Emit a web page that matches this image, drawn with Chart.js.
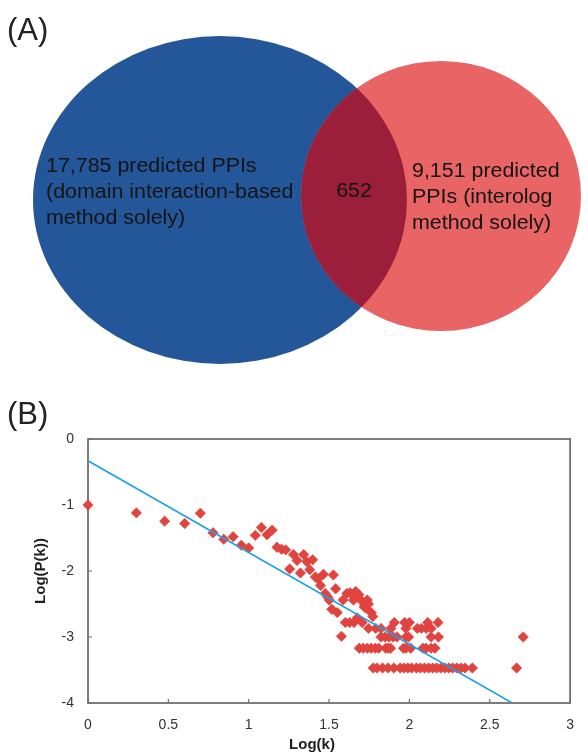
<!DOCTYPE html>
<html>
<head>
<meta charset="utf-8">
<script src="https://cdn.jsdelivr.net/npm/chart.js@4.4.1/dist/chart.umd.min.js"></script>
<style>
  html, body { margin: 0; padding: 0; background: #ffffff; }
  body { width: 588px; height: 756px; position: relative; overflow: hidden; font-family: "Liberation Sans", Arial, sans-serif; }
  .panel { position: absolute; left: 0; width: 588px; }
  #wrapA { top: 0; height: 400px; }
  #wrapB { top: 400px; height: 356px; }
  .tag { position: absolute; left: 7px; font-size: 31px; line-height: 32px; color: #222; font-family: "Liberation Sans", Arial, sans-serif; }
</style>
</head>
<body>
<div class="panel" id="wrapA"><canvas id="venn" width="588" height="400"></canvas></div>
<div class="panel" id="wrapB"><canvas id="scatter" width="588" height="356"></canvas></div>
<div class="tag" style="top:14px">(A)</div>
<div class="tag" style="top:398px">(B)</div>
<script>
// ---------- (A) Venn data ----------
const vennSetLabels = ['domain interaction-based', 'interolog'];
const vennExclusive = [17785, 9151];
const vennShared = [652];

// ---------- (B) degree distribution data ----------
const scatterLogK = [0, 0.301, 0.477, 0.602, 0.699, 0.778, 0.845, 0.903, 0.954, 1.000,
  1.041, 1.079, 1.114, 1.146, 1.176, 1.204, 1.230, 1.255, 1.279, 1.301,
  1.322, 1.342, 1.362, 1.380, 1.398, 1.415, 1.431, 1.447, 1.465, 1.476,
  1.491, 1.501, 1.517, 1.527, 1.541, 1.551, 1.577, 1.587, 1.611, 1.631,
  1.652, 1.666, 1.676, 1.686, 1.697, 1.718, 1.728, 1.738, 1.745, 1.762, 1.772];
const scatterLogP = [-1.00, -1.12, -1.245, -1.28, -1.125, -1.42, -1.52, -1.48, -1.61, -1.65,
  -1.46, -1.34, -1.45, -1.38, -1.64, -1.67, -1.68, -1.97, -1.75, -1.84,
  -2.03, -1.75, -1.86, -1.98, -1.83, -2.09, -2.12, -2.22, -2.05, -2.34,
  -2.39, -2.44, -2.58, -2.06, -2.27, -2.63, -2.99, -2.44, -2.34, -2.33,
  -2.44, -2.31, -2.71, -2.36, -2.44, -2.54, -2.56, -2.44, -2.50, -2.63, -2.69];
// plateau rows (log P levels) and the log k values sitting on each
const floorLevels = [-2.78, -2.87, -3.00, -3.17, -3.47];
const floorLogK = [
  [1.601, 1.628, 1.655, 1.706, 1.906, 1.970, 2.000, 2.114, 2.178],
  [1.746, 1.790, 1.823, 1.885, 1.978, 2.049, 2.074, 2.104, 2.135],
  [1.823, 1.849, 1.873, 1.899, 1.923, 1.979, 1.995, 2.135, 2.181, 2.708],
  [1.688, 1.712, 1.738, 1.762, 1.788, 1.809, 1.853, 1.867, 1.883, 1.963, 1.979, 2.008, 2.084, 2.104, 2.135, 2.159],
  [1.775, 1.798, 1.833, 1.867, 1.903, 1.943, 1.967, 1.990, 2.014, 2.044, 2.068, 2.094, 2.120, 2.145, 2.169, 2.195, 2.221, 2.245, 2.269, 2.295, 2.321, 2.346, 2.392, 2.667]
];
const fitLogK = [0, 2.64];
const fitLogP = [-0.33, -4.0];
const xTickValues = [0, 0.5, 1, 1.5, 2, 2.5, 3];
const yTickValues = [0, -1, -2, -3, -4];
const xTitle = 'Log(k)';
const yTitle = 'Log(P(k))';

const FONT = '"Liberation Sans", Arial, sans-serif';
const fmt = n => n.toLocaleString('en-US');

// ---------- Venn chart ----------
const vennPlugin = {
  id: 'vennDraw',
  beforeDatasetsDraw(chart, args, opts) {
    const ctx = chart.ctx, xs = chart.scales.x, ys = chart.scales.y;
    const path = c => {
      const cx = xs.getPixelForValue(c.cx), cy = ys.getPixelForValue(c.cy);
      const rx = Math.abs(xs.getPixelForValue(c.cx + c.rx) - cx);
      const ry = Math.abs(ys.getPixelForValue(c.cy + c.ry) - cy);
      ctx.beginPath();
      ctx.ellipse(cx, cy, rx, ry, 0, 0, Math.PI * 2);
    };
    ctx.save();
    opts.circles.forEach(c => { path(c); ctx.fillStyle = c.color; ctx.fill(); });
    ctx.save();
    path(opts.circles[0]); ctx.clip();
    path(opts.circles[1]); ctx.fillStyle = opts.overlapColor; ctx.fill();
    ctx.restore();

    ctx.fillStyle = '#141414';
    ctx.font = opts.fontSize + 'px ' + FONT;
    ctx.textBaseline = 'middle';
    const put = (txt, x, y, align) => {
      ctx.save();
      ctx.translate(xs.getPixelForValue(x), ys.getPixelForValue(y));
      ctx.scale(opts.stretch, 1);
      ctx.textAlign = align;
      ctx.fillText(txt, 0, 0);
      ctx.restore();
    };
    const left = [fmt(vennExclusive[0]) + ' predicted PPIs', '(' + vennSetLabels[0], 'method solely)'];
    const right = [fmt(vennExclusive[1]) + ' predicted', 'PPIs (' + vennSetLabels[1], 'method solely)'];
    left.forEach((t, i) => put(t, opts.leftText.x, opts.leftText.y + i * opts.lineGap, 'left'));
    right.forEach((t, i) => put(t, opts.rightText.x, opts.rightText.y + i * opts.lineGap, 'left'));
    put(fmt(vennShared[0]), opts.midText.x, opts.midText.y, 'center');
    ctx.restore();
  }
};

new Chart(document.getElementById('venn'), {
  type: 'scatter',
  data: { datasets: [] },
  options: {
    responsive: false, animation: false, events: [],
    layout: { padding: 0 },
    plugins: {
      legend: { display: false }, tooltip: { enabled: false },
      vennDraw: {
        circles: [
          { cx: 220, cy: 200, rx: 187, ry: 164, color: '#23579A' },
          { cx: 441, cy: 196, rx: 140, ry: 135, color: '#E96464' }
        ],
        overlapColor: '#9B1F3A',
        fontSize: 20,
        stretch: 1.07,
        lineGap: 26,
        leftText: { x: 46, y: 166 },
        rightText: { x: 412, y: 171 },
        midText: { x: 354, y: 191 }
      }
    },
    scales: {
      x: { type: 'linear', min: 0, max: 588, display: false },
      y: { type: 'linear', min: 0, max: 400, reverse: true, display: false }
    }
  },
  plugins: [vennPlugin]
});

// ---------- Scatter chart ----------
const points = scatterLogK.map((x, i) => ({ x, y: scatterLogP[i] }));
floorLogK.forEach((row, r) => row.forEach(x => points.push({ x, y: floorLevels[r] })));

const framePlugin = {
  id: 'frameDraw',
  beforeDatasetsDraw(chart) {
    const ctx = chart.ctx, a = chart.chartArea, xs = chart.scales.x, ys = chart.scales.y;
    ctx.save();
    ctx.strokeStyle = '#6f6f6f';
    ctx.lineWidth = 1.8;
    ctx.strokeRect(a.left, a.top, a.right - a.left, a.bottom - a.top);
    ctx.lineWidth = 1.2;
    ctx.beginPath();
    yTickValues.forEach(v => { const p = ys.getPixelForValue(v); ctx.moveTo(a.left, p); ctx.lineTo(a.left + 4, p); });
    xTickValues.forEach(v => { const p = xs.getPixelForValue(v); ctx.moveTo(p, a.bottom); ctx.lineTo(p, a.bottom - 4); });
    ctx.stroke();
    ctx.restore();
  },
  afterDraw(chart) {
    const ctx = chart.ctx;
    ctx.save();
    ctx.fillStyle = '#1e1e1e';
    ctx.font = 'bold 15px ' + FONT;
    ctx.textAlign = 'center';
    ctx.textBaseline = 'middle';
    ctx.fillText(xTitle, 312, 345);
    ctx.translate(41, 171);
    ctx.rotate(-Math.PI / 2);
    ctx.fillText(yTitle, 0, 0);
    ctx.restore();
  }
};

const tickFont = { family: FONT, size: 14 };
new Chart(document.getElementById('scatter'), {
  type: 'scatter',
  data: {
    datasets: [
      { label: 'fit', data: fitLogK.map((x, i) => ({ x, y: fitLogP[i] })), showLine: true,
        borderColor: '#1CA2E0', borderWidth: 1.6, pointRadius: 0, order: 0 },
      { label: 'P(k)', data: points, pointStyle: 'rectRot', pointRadius: 5.2,
        backgroundColor: '#E1433F', borderColor: '#E1433F', borderWidth: 0.6, clip: false, order: 1 }
    ]
  },
  options: {
    responsive: false, animation: false, events: [],
    layout: { padding: { left: 0, right: 4, top: 39, bottom: 0 } },
    plugins: { legend: { display: false }, tooltip: { enabled: false } },
    scales: {
      x: {
        type: 'linear', min: 0, max: 3,
        afterBuildTicks: s => { s.ticks = xTickValues.map(v => ({ value: v })); },
        afterFit: s => { s.height = 53; },
        grid: { display: false, drawTicks: false }, border: { display: false },
        ticks: { padding: 14, font: tickFont, color: '#333', maxRotation: 0, autoSkip: false, callback: v => String(v) }
      },
      y: {
        type: 'linear', min: -4, max: 0,
        afterBuildTicks: s => { s.ticks = yTickValues.map(v => ({ value: v })); },
        afterFit: s => { s.width = 88; },
        grid: { display: false, drawTicks: false }, border: { display: false },
        ticks: { padding: 14, font: tickFont, color: '#333', autoSkip: false, callback: v => String(v) }
      }
    }
  },
  plugins: [framePlugin]
});
</script>
</body>
</html>
